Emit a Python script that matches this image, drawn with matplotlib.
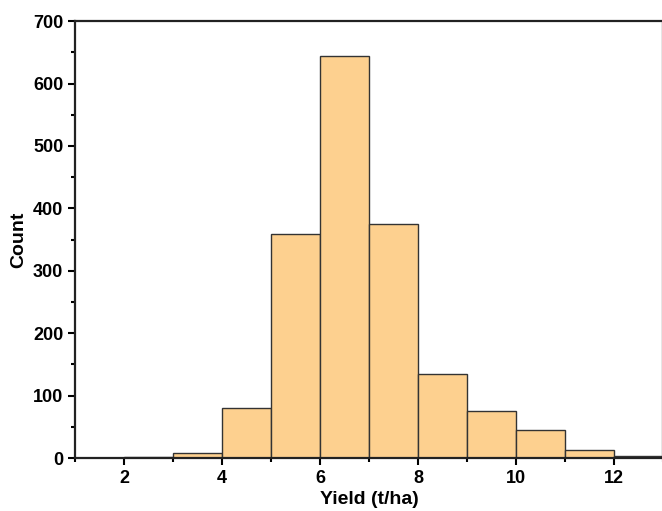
import matplotlib
matplotlib.use("Agg")
import matplotlib.pyplot as plt
from matplotlib.ticker import MultipleLocator

plt.rcParams['font.family'] = ['Liberation Sans', 'DejaVu Sans']
plt.rcParams['font.weight'] = 'bold'

# histogram of yield, bin width 1 t/ha
bin_left = [2, 3, 4, 5, 6, 7, 8, 9, 10, 11, 12]
counts = [2, 8, 80, 359, 644, 375, 135, 75, 45, 13, 3]

fig = plt.figure(figsize=(6.62, 5.11), dpi=100)
ax = fig.add_axes([0.1133, 0.1037, 0.888, 0.855])

ax.bar(bin_left, counts, width=1, align='edge', color='#fdd08f',
       edgecolor='#333333', linewidth=1)

ax.set_xlim(1, 13)
ax.set_ylim(0, 700)
ax.xaxis.set_major_locator(MultipleLocator(2))
ax.xaxis.set_minor_locator(MultipleLocator(1))
ax.yaxis.set_major_locator(MultipleLocator(100))
ax.yaxis.set_minor_locator(MultipleLocator(50))

ax.tick_params(which='major', direction='out', length=5, width=1.5, labelsize=13)
ax.tick_params(which='minor', direction='out', length=3, width=1.5)
ax.tick_params(top=False, right=False)
for s in ax.spines.values():
    s.set_linewidth(1.6)
    s.set_color('#222222')

ax.set_xlabel('Yield (t/ha)', fontsize=14, fontweight='bold', labelpad=3)
ax.set_ylabel('Count', fontsize=14, fontweight='bold', labelpad=4)

fig.savefig('out.png', dpi=100)
